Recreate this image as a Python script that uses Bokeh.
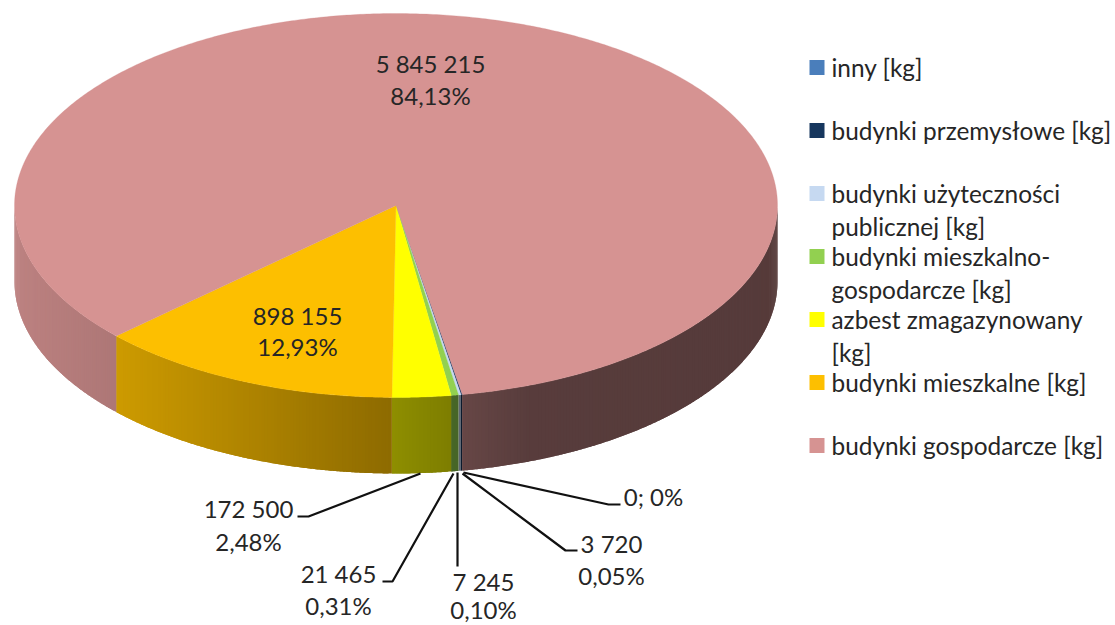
import numpy as np
from bokeh.plotting import figure, ColumnDataSource
from bokeh.models import Range1d
from bokeh.core.properties import value
from bokeh.embed import file_html
from bokeh.resources import INLINE

categories = ["inny [kg]", "budynki przemysłowe [kg]", "budynki użyteczności\npublicznej [kg]",
              "budynki mieszkalno-\ngospodarcze [kg]", "azbest zmagazynowany\n[kg]",
              "budynki mieszkalne [kg]", "budynki gospodarcze [kg]"]
values = [0, 3720, 7245, 21465, 172500, 898155, 5845215]
value_labels = ["0; 0%", "3 720\n0,05%", "7 245\n0,10%", "21 465\n0,31%", "172 500\n2,48%",
                "898 155\n12,93%", "5 845 215\n84,13%"]
colors = ["#4A7EBB", "#17375E", "#C6D9F1", "#92D050", "#FFFF00", "#FDBF00", "#D69392"]

FONT = value("Lato")
TXT = "#262626"
W, H = 1115, 625
CX, CY, RX, RY, DEPTH = 395.5, 205, 381.5, 192, 76
START = 170.0

p = figure(width=W, height=H, output_backend="svg", toolbar_location=None,
           x_range=Range1d(0, W), y_range=Range1d(H, 0),
           min_border=0, outline_line_color=None)
p.axis.visible = False
p.grid.visible = False


def rgb(c):
    return np.array([int(c[i:i + 2], 16) for i in (1, 3, 5)], float)


def hexc(a):
    return "#%02x%02x%02x" % tuple(int(round(v)) for v in a)


def ex(t):
    return CX + RX * np.sin(np.radians(t))


def ey(t):
    return CY - RY * np.cos(np.radians(t))


def shade(x):
    return np.interp(x, [14, 115, 116, 390, 460, 530, 777],
                     [0.88, 0.81, 0.81, 0.56, 0.48, 0.41, 0.40])


fr = np.array(values, float) / sum(values)
edges = START + np.concatenate([[0], np.cumsum(fr)]) * 360

# side wall, only the part facing the viewer; strips overlap so no seams show
sx, sy, sc = [], [], []
for i in range(len(values)):
    a0, a1 = edges[i], edges[i + 1]
    for off in (0, 360):
        lo, hi = max(a0 - off, 90), min(a1 - off, 270)
        if hi <= lo:
            continue
        n = max(1, int((hi - lo) / 0.5))
        ts = np.linspace(lo, hi, n + 1)
        for k in range(n):
            tt = np.linspace(ts[k], ts[min(k + 2, n)], 5)
            xs = ex(tt)
            sx.append(np.concatenate([xs, xs[::-1]]))
            sy.append(np.concatenate([ey(tt), ey(tt[::-1]) + DEPTH]))
            sc.append(hexc(rgb(colors[i]) * shade(ex((ts[k] + ts[k + 1]) / 2))))
p.patches(xs="x", ys="y", fill_color="c", line_color=None,
          source=ColumnDataSource(dict(x=sx, y=sy, c=sc)))

# top face
tx, ty = [], []
for i in range(len(values)):
    tt = np.linspace(edges[i], edges[i + 1], max(2, int(fr[i] * 720) + 2))
    tx.append(np.concatenate([[CX], ex(tt)]))
    ty.append(np.concatenate([[CY], ey(tt)]))
p.patches(xs="x", ys="y", fill_color="c", line_color="c", line_width=0.3,
          source=ColumnDataSource(dict(x=tx, y=ty, c=colors)))

# leader lines
leaders = [
    ([463, 608, 620], [472, 504, 504]),
    ([462, 565, 577], [473, 550, 550]),
    ([457, 457], [472, 566]),
    ([453, 392, 382], [473, 581, 581]),
    ([420, 308, 297], [473, 516, 516]),
]
p.multi_line(xs=[l[0] for l in leaders], ys=[l[1] for l in leaders],
             line_color="#111111", line_width=2.2)

# value labels
label_pos = [(653, 496, 0), (611, 543, 32), (483, 581, 28), (338, 573, 32), (248, 508, 33),
             (297, 315, 31), (430, 63, 32)]
lx, ly, lt = [], [], []
for lab, (x, y, dy) in zip(value_labels, label_pos):
    for j, part in enumerate(lab.split("\n")):
        lx.append(x)
        ly.append(y + j * dy)
        lt.append(part)
p.text(x=lx, y=ly, text=lt, text_font=FONT, text_font_size="24px", text_color=TXT,
       text_align="center", text_baseline="middle")

# legend
rows = [67, 130, 193, 256, 319, 382, 445]
p.rect(x=[816.5] * 7, y=rows, width=15, height=15, fill_color=colors, line_color=None)
gx, gy, gt = [], [], []
for cat, y0 in zip(categories, rows):
    for j, part in enumerate(cat.split("\n")):
        gx.append(831)
        gy.append(y0 + j * 33)
        gt.append(part)
p.text(x=gx, y=gy, text=gt, text_font=FONT, text_font_size="24.4px", text_color=TXT,
       text_align="left", text_baseline="middle")

open("out.html", "w").write(file_html(p, INLINE))
